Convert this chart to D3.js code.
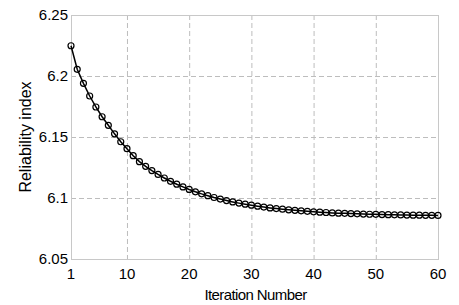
<!DOCTYPE html>
<html lang="en">
<head>
  <meta charset="UTF-8">
  <title>Reliability index vs iteration</title>
  <style>
    body { margin: 0; background: #fff; font-family: Arial, "Liberation Sans", sans-serif; }
  </style>
</head>
<body>

<svg width="459" height="305"></svg>

<script src="https://d3js.org/d3.v7.min.js"></script>
<script>

// Data
let iterations = d3.range(1, 61);
let reliability = [
  6.2248, 6.2055, 6.1940, 6.1836, 6.1746, 6.1666, 6.1596, 6.1526, 6.1461, 6.1404,
  6.1347, 6.1298, 6.1260, 6.1225, 6.1193, 6.1164, 6.1137, 6.1113, 6.1091, 6.1070,
  6.1051, 6.1034, 6.1019, 6.1004, 6.0991, 6.0979, 6.0968, 6.0958, 6.0949, 6.0941,
  6.0933, 6.0926, 6.0919, 6.0913, 6.0908, 6.0903, 6.0899, 6.0895, 6.0891, 6.0887,
  6.0884, 6.0881, 6.0878, 6.0876, 6.0874, 6.0872, 6.0870, 6.0868, 6.0867, 6.0866,
  6.0864, 6.0863, 6.0862, 6.0861, 6.0860, 6.0859, 6.0859, 6.0858, 6.0858, 6.0857
];
let xTicks = [1, 10, 20, 30, 40, 50, 60];
let yTicks = [6.05, 6.1, 6.15, 6.2, 6.25];
let yTickLabels = ["6.05", "6.1", "6.15", "6.2", "6.25"];

let margin = {top: 15, right: 21, bottom: 46, left: 71};
let width = 459, height = 305;

let svg = d3.select("svg");

let x = d3.scaleLinear().domain([1, 60]).range([margin.left, width - margin.right]);
let y = d3.scaleLinear().domain([6.05, 6.25]).range([height - margin.bottom, margin.top]);

// dashed grid
let grid = svg.append("g").attr("stroke", "#bdbdbd").attr("stroke-dasharray", "5,3").attr("stroke-width", 1);
grid.selectAll(".vg")
    .data(xTicks.filter(d => d != 1 && d != 60))
    .enter().append("line")
    .attr("x1", d => x(d) + 0.5).attr("x2", d => x(d) + 0.5)
    .attr("y1", y(6.25)).attr("y2", y(6.05));
grid.selectAll(".hg")
    .data(yTicks.filter(d => d != 6.05 && d != 6.25))
    .enter().append("line")
    .attr("y1", d => Math.round(y(d)) + 0.5).attr("y2", d => Math.round(y(d)) + 0.5)
    .attr("x1", x(1)).attr("x2", x(60));

// box
svg.append("rect")
    .attr("x", x(1) + 0.5).attr("y", y(6.25) + 0.5)
    .attr("width", x(60) - x(1)).attr("height", y(6.05) - y(6.25))
    .attr("fill", "none").attr("stroke", "#c8c8c8");

// tick labels
svg.append("g").selectAll("text")
    .data(xTicks).enter().append("text")
    .attr("x", d => x(d)).attr("y", y(6.05) + 20)
    .attr("text-anchor", "middle")
    .attr("font-size", 15)
    .text(d => d);

svg.append("g").selectAll("text")
    .data(yTicks).enter().append("text")
    .attr("x", x(1) - 3).attr("y", d => y(d) + 5)
    .attr("text-anchor", "end")
    .attr("font-size", 15)
    .text((d, i) => yTickLabels[i]);

// axis titles
svg.append("text")
    .attr("x", (x(1) + x(60)) / 2 + 1).attr("y", 300)
    .attr("text-anchor", "middle")
    .attr("font-size", 15)
    .attr("letter-spacing", "-0.6px")
    .text("Iteration Number");

svg.append("text")
    .attr("transform", "translate(31," + ((y(6.05) + y(6.25)) / 2) + ") rotate(-90)")
    .attr("text-anchor", "middle")
    .attr("font-size", 16)
    .text("Reliability index");

// line and markers
let line = d3.line()
    .x((d, i) => x(iterations[i]))
    .y(d => y(d));

svg.append("path")
    .datum(reliability)
    .attr("d", line)
    .attr("fill", "none")
    .attr("stroke", "#000")
    .attr("stroke-width", 1.5);

svg.append("g").selectAll("circle")
    .data(reliability).enter().append("circle")
    .attr("cx", (d, i) => x(iterations[i]))
    .attr("cy", d => y(d))
    .attr("r", 3)
    .attr("fill", "none")
    .attr("stroke", "#000")
    .attr("stroke-width", 1.2);

</script>

</body>
</html>
